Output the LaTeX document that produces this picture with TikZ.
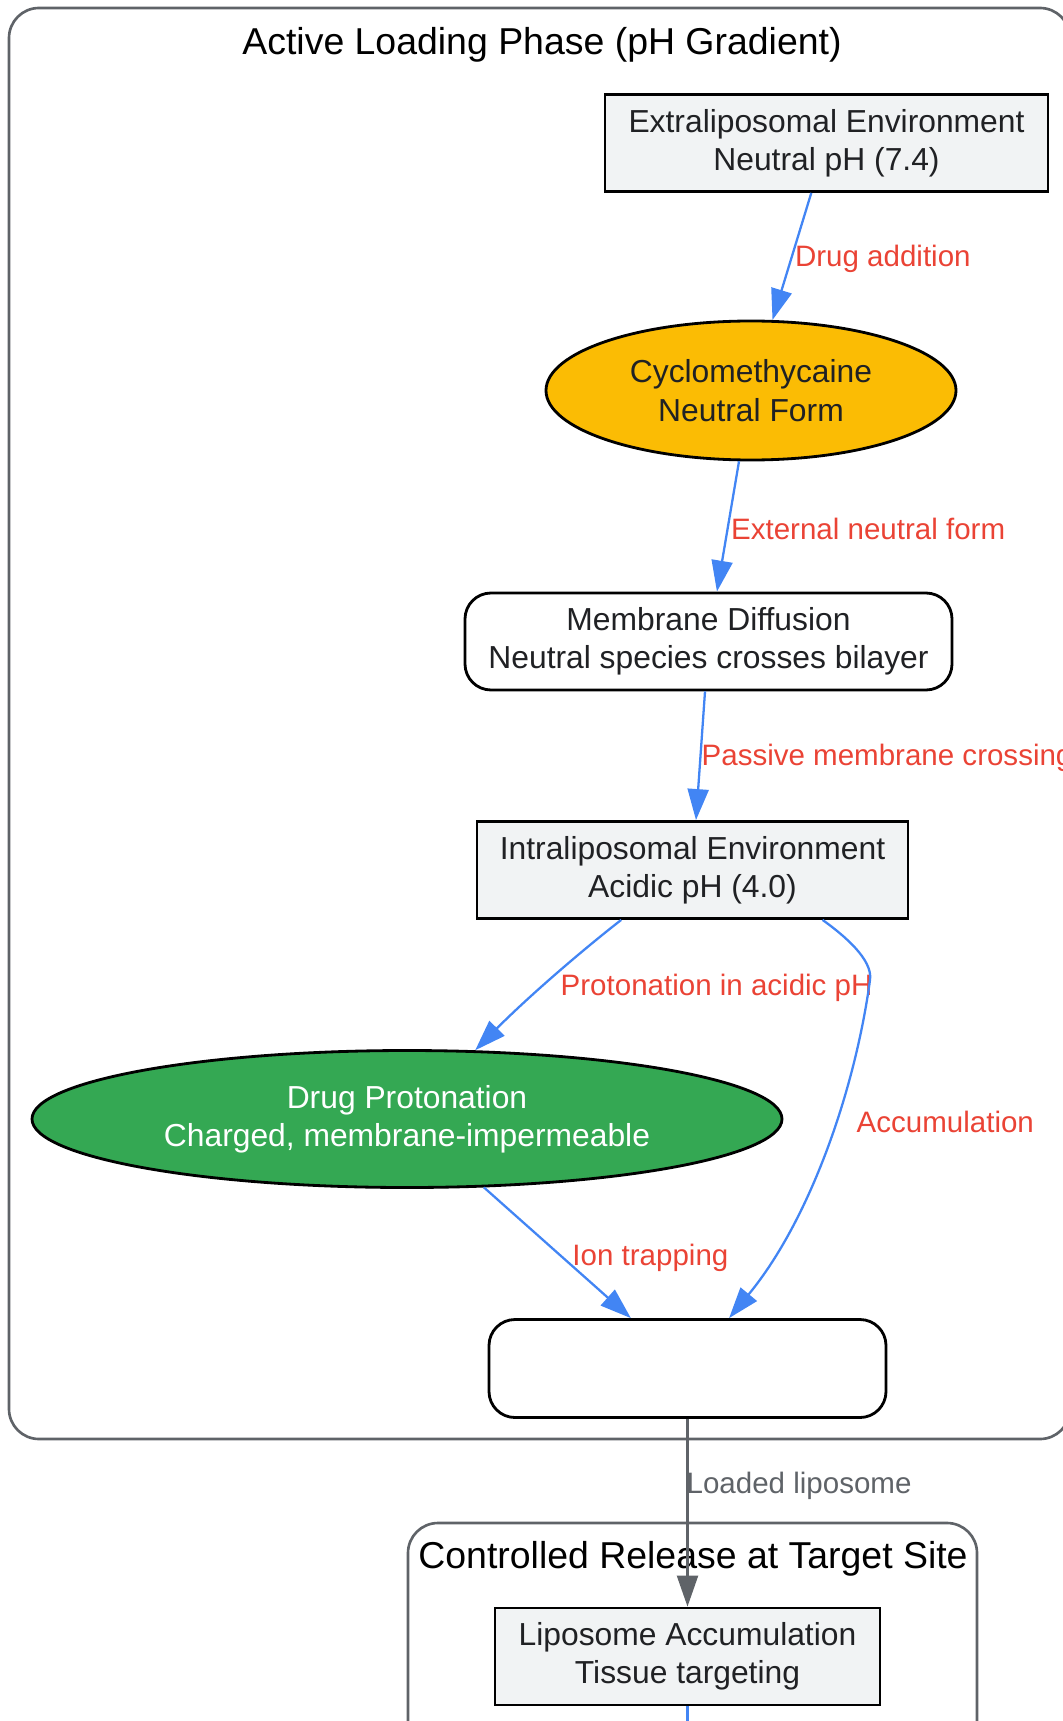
\documentclass[tikz,border=0pt]{standalone}
\usepackage{fontspec}
\setmainfont{Liberation Sans}
\usetikzlibrary{shapes.geometric,arrows.meta}

\definecolor{bleu}{HTML}{4285F4}
\definecolor{rouge}{HTML}{EA4335}
\definecolor{gris}{HTML}{5F6368}
\definecolor{fond}{HTML}{F1F3F4}
\definecolor{jaune}{HTML}{FBBC04}
\definecolor{vert}{HTML}{34A853}
\definecolor{encre}{HTML}{202124}

\tikzset{boite/.style = {rectangle, draw, line width=0.8pt, fill=fond, text=encre,
                         minimum width=#1, minimum height=9.7mm, inner sep=0pt,
                         align=center, font=\fontsize{9.05}{10.9}\selectfont},
         boite/.default=40mm,
         arrondi/.style = {boite=#1, fill=white, rounded corners=2.6mm},
         ovale/.style = {ellipse, draw, line width=0.8pt, text=encre, inner sep=0pt,
                         align=center, font=\fontsize{9.05}{10.9}\selectfont},
         fleche/.style = {draw=#1, line width=0.65pt, -{Triangle[length=3.1mm,width=2.1mm]}},
         fleche/.default=bleu,
         etiq/.style = {text=rouge, inner sep=0pt, yshift=-0.25mm, font=\fontsize{8.4}{10}\selectfont},
         groupe/.style = {draw=gris, line width=0.75pt, rounded corners=3mm},
         titre/.style = {font=\fontsize{10.65}{12}\selectfont}
        }

\begin{document}
\begin{tikzpicture}
\useasboundingbox (0,0) rectangle (10.62,-17.21);
\draw[groupe] (0.09,-0.08) rectangle (10.70,-14.39);
\node[titre] at (5.42,-0.45) (t1) {Active Loading Phase (pH Gradient)};
\draw[groupe] (4.08,-15.23) rectangle (9.77,-17.70);
\node[titre] at (6.93,-15.59) (t2) {Controlled Release at Target Site};

\node[boite=44.3mm] at (8.265,-1.43) (ext) {Extraliposomal Environment\\Neutral pH (7.4)};
\node[ovale, fill=jaune, minimum width=41mm, minimum height=13.9mm] at (7.51,-3.905) (cyc) {Cyclomethycaine\\Neutral Form};
\node[arrondi=48.7mm] at (7.085,-6.415) (mem) {Membrane Diffusion\\Neutral species crosses bilayer};
\node[boite=43.1mm] at (6.925,-8.70) (int) {Intraliposomal Environment\\Acidic pH (4.0)};
\node[ovale, fill=vert, text=white, minimum width=75mm, minimum height=13.7mm] at (4.07,-11.19) (pro) {Drug Protonation\\Charged, membrane-impermeable};
\node[arrondi=39.7mm, minimum height=9.8mm] at (6.875,-13.685) (lip) {};
\node[boite=38.5mm] at (6.875,-16.565) (acc) {Liposome Accumulation\\Tissue targeting};
\coordinate (bas) at (6.875,-18.2);

\draw[fleche] (ext) -- node[etiq, anchor=west, pos=0.5, xshift=0.2mm] {Drug addition} (cyc);
\draw[fleche] (cyc) -- node[etiq, anchor=west, pos=0.5, xshift=0.2mm] {External neutral form} (mem);
\draw[fleche] (mem) -- node[etiq, anchor=west, pos=0.5] {Passive membrane crossing} (int);
\draw[fleche] (int.215) .. controls (5.85,-9.48) and (5.30,-9.95) .. (pro);
\node[etiq, anchor=west] at (5.60,-9.85) (l1) {Protonation in acidic pH};
\draw[fleche] (int.-21) .. controls (8.45,-9.36) and (8.73,-9.60) .. (8.70,-9.80)
              .. controls (8.55,-10.9) and (8.10,-12.2) .. (lip);
\node[etiq, anchor=west] at (8.56,-11.19) (l2) {Accumulation};
\draw[fleche] (pro) -- node[etiq, anchor=west, pos=0.52, xshift=1.1mm] {Ion trapping} (lip);
\draw[fleche=gris] (lip) -- node[etiq, text=gris, anchor=west, pos=0.346, xshift=-0.2mm] {Loaded liposome} (acc);
\draw[fleche] (acc) -- (bas);
\end{tikzpicture}
\end{document}
